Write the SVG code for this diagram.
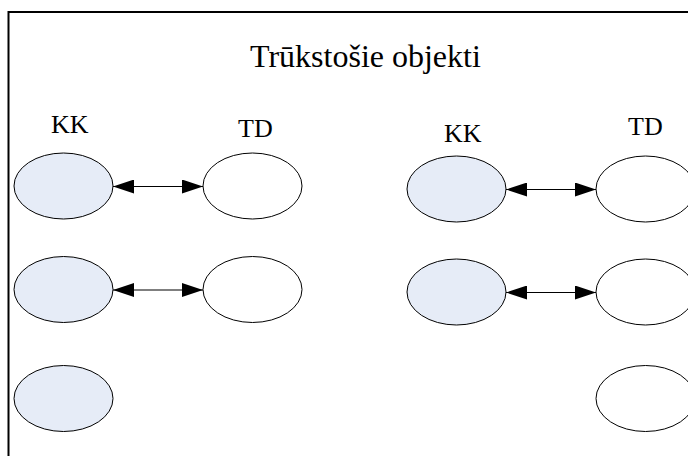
<svg xmlns="http://www.w3.org/2000/svg" width="688" height="456" viewBox="0 0 688 456">
  <style>
    .kk { fill: #e6ecf7; stroke: #000; stroke-width: 1; }
    .td { fill: #fff; stroke: #000; stroke-width: 1; }
    text { font-family: "Liberation Serif", "Times New Roman", "DejaVu Serif", serif; fill: #000; }
    .link { stroke: #000; stroke-width: 1.2; fill: none; marker-start: url(#head); marker-end: url(#head); }
  </style>
  <defs>
    <marker id="head" viewBox="0 0 21 14" refX="21" refY="7" markerWidth="21" markerHeight="14" markerUnits="userSpaceOnUse" orient="auto-start-reverse">
      <path d="M0,0 L21,7 L0,14 Z" fill="#000"/>
    </marker>
  </defs>
  <rect width="688" height="456" fill="#fff"/>
  <!-- outer frame, right and bottom edges run off the canvas -->
  <rect id="frame" x="8.5" y="12" width="700" height="470" fill="none" stroke="#000" stroke-width="2"/>

  <text id="title" x="250" y="67" font-size="32" font-family="Liberation Serif, serif">Trūkstošie objekti</text>
  <text id="lbl-kk-left" x="51" y="133" font-size="26" font-family="Liberation Serif, serif">KK</text>
  <text id="lbl-td-left" x="238" y="137" font-size="26" font-family="Liberation Serif, serif">TD</text>
  <text id="lbl-kk-right" x="444" y="141.5" font-size="26" font-family="Liberation Serif, serif">KK</text>
  <text id="lbl-td-right" x="628" y="135" font-size="26" font-family="Liberation Serif, serif">TD</text>

  <!-- left group -->
  <g id="kk-l1"><ellipse class="kk" cx="63.5" cy="186" rx="49.5" ry="33"/></g>
  <g id="td-l1"><ellipse class="td" cx="252.5" cy="186" rx="49.5" ry="33"/></g>
  <g id="kk-l2"><ellipse class="kk" cx="63.5" cy="289.5" rx="49.5" ry="33"/></g>
  <g id="td-l2"><ellipse class="td" cx="252.5" cy="289.5" rx="49.5" ry="33"/></g>
  <g id="kk-l3"><ellipse class="kk" cx="63.5" cy="398.5" rx="49.5" ry="33"/></g>

  <!-- right group -->
  <g id="kk-r1"><ellipse class="kk" cx="456.5" cy="189" rx="49.5" ry="33"/></g>
  <g id="td-r1"><ellipse class="td" cx="645.5" cy="189" rx="49.5" ry="33"/></g>
  <g id="kk-r2"><ellipse class="kk" cx="456.5" cy="292" rx="49.5" ry="33"/></g>
  <g id="td-r2"><ellipse class="td" cx="645.5" cy="292" rx="49.5" ry="33"/></g>
  <g id="td-r3"><ellipse class="td" cx="645.5" cy="398.5" rx="49.5" ry="33"/></g>

  <g id="connectors">
    <line class="link" x1="113" y1="186.5" x2="203" y2="186.5"/>
    <line class="link" x1="113" y1="290" x2="203" y2="290"/>
    <line class="link" x1="506" y1="189.5" x2="596" y2="189.5"/>
    <line class="link" x1="506" y1="292.5" x2="596" y2="292.5"/>
  </g>
</svg>
